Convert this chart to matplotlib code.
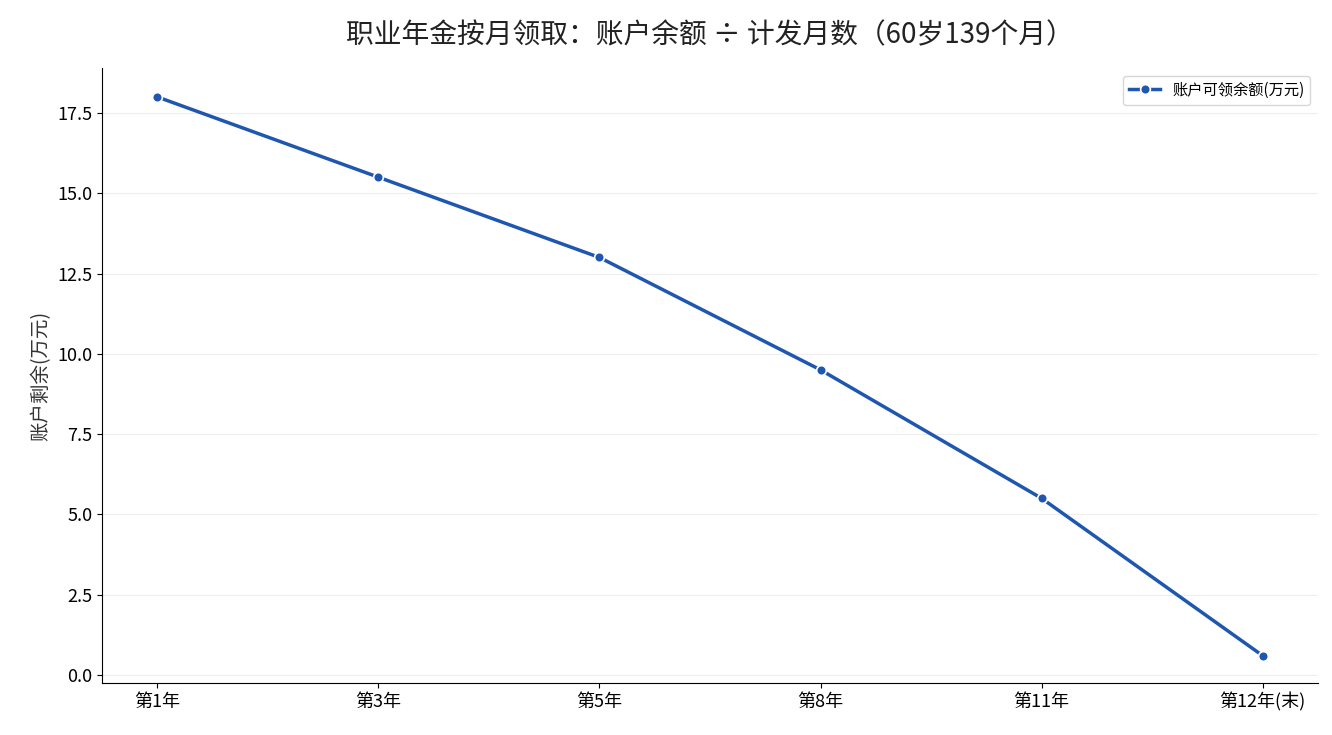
import matplotlib
matplotlib.use("Agg")
import matplotlib.pyplot as plt

plt.rcParams['font.family'] = ['Noto Sans CJK SC', 'DejaVu Sans']

categories = ["第1年", "第3年", "第5年", "第8年", "第11年", "第12年(末)"]
balance = [18.0, 15.5, 13.0, 9.5, 5.5, 0.6]

fig = plt.figure(figsize=(13.32, 7.35), dpi=100)
ax = fig.add_axes([102/1332, 1-683/735, (1318-102)/1332, (683-68)/735])
x = list(range(len(categories)))
ax.plot(x, balance, color="#1f57b0", linewidth=2.5, marker="o", markersize=7,
        markeredgecolor="white", markeredgewidth=1.2, label="账户可领余额(万元)")
ax.set_xticks(x)
ax.set_xticklabels(categories, fontsize=13)
ax.set_xlim(-0.25, 5.25)
ax.set_ylim(-0.25, 18.9)
ax.set_yticks([0, 2.5, 5, 7.5, 10, 12.5, 15, 17.5])
ax.tick_params(axis='y', labelsize=13)
ax.set_ylabel("账户剩余(万元)", fontsize=14, color="#333333")
ax.grid(axis='y', color="#eeeeee", linewidth=0.8)
ax.set_axisbelow(True)
for s in ["top", "right"]:
    ax.spines[s].set_visible(False)
ax.legend(loc="upper right", fontsize=11)
ax.set_title("职业年金按月领取：账户余额 ÷ 计发月数（60岁139个月）", fontsize=20, pad=18, color="#222222")
fig.savefig("out.png", dpi=100)
